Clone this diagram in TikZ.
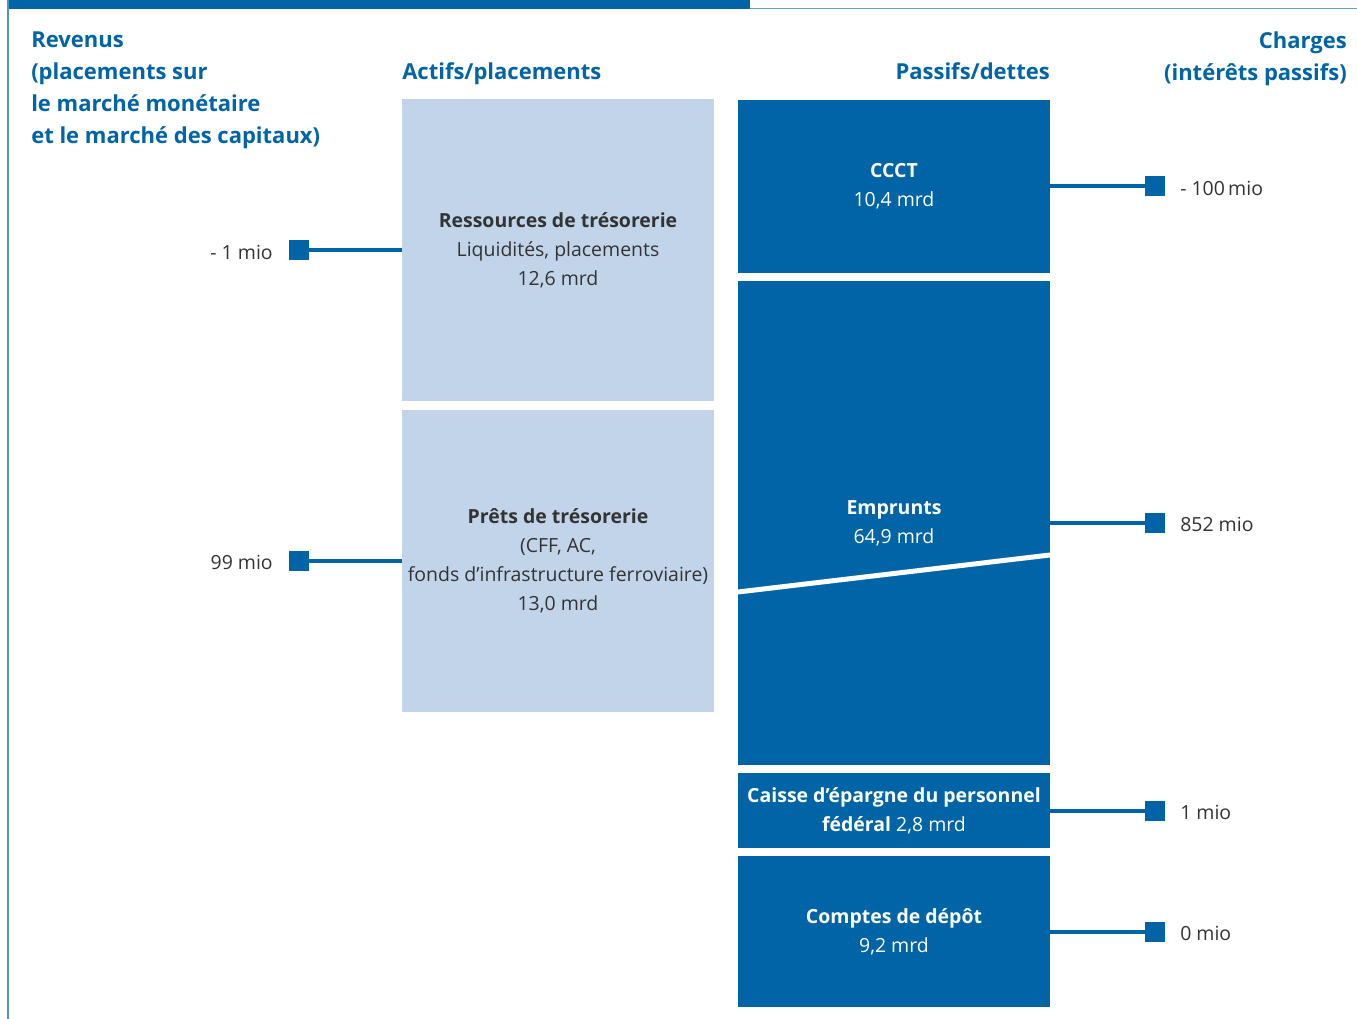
\documentclass[tikz,border=0pt]{standalone}
\usepackage{fontspec}
\setmainfont{Open Sans}
\usetikzlibrary{positioning}

\definecolor{fedblue}{RGB}{0,100,167}
\definecolor{lightfed}{RGB}{194,212,234}
\definecolor{txtgray}{RGB}{51,51,51}

\tikzset{
  head/.style={text=fedblue, font=\fontsize{16.5}{24}\selectfont\bfseries, inner sep=0pt},
  asset/.style={fill=lightfed, text=txtgray, minimum width=234pt, align=center, inner sep=0pt,
    font=\fontsize{14.6}{21.75}\selectfont},
  debt/.style={fill=fedblue, text=white, minimum width=234pt, align=center, inner sep=0pt,
    font=\fontsize{14.6}{21.75}\selectfont},
  flowsq/.style={fill=fedblue, minimum size=15pt, inner sep=0pt},
  flowline/.style={draw=fedblue, line width=3pt},
  amount/.style={text=txtgray, font=\fontsize{14.6}{18}\selectfont, inner sep=0pt}
}

\begin{document}
\begin{tikzpicture}[x=0.75pt,y=0.75pt,yscale=-1,xscale=1]
\useasboundingbox (0,0) rectangle (1357,1019);

% frame: top bar and left rule
\fill[fedblue] (8,0) rectangle (750,9);
\draw[fedblue!60, line width=0.75pt] (750,9) -- (1357,9);
\draw[fedblue!70, line width=1.5pt] (8,0) -- (8,1019);

% column heads
\node[head, anchor=north west, align=left] (revhead) at (31,32)
  {Revenus\\(placements sur\\le marché monétaire\\et le marché des capitaux)};
\node[head, anchor=base west] (assethead) at (402,80) {Actifs/placements};
\node[head, anchor=base east] (debthead) at (1050,80) {Passifs/dettes};
\node[head, anchor=north east, align=right] (chghead) at (1347,32)
  {Charges\\(intérêts passifs)};

% assets
\node[asset, minimum height=226.5pt] (tres) at (558,250)
  {\textbf{Ressources de trésorerie}\\Liquidités, placements\\12,6 mrd};
\node[asset, minimum height=226.5pt] (loans) at (558,561)
  {\textbf{Prêts de trésorerie}\\(CFF, AC,\\fonds d’infrastructure ferroviaire)\\13,0 mrd};

% liabilities
\node[debt, minimum height=129.75pt] (ccct) at (894,186.5)
  {\textbf{CCCT}\\10,4 mrd};
\node[debt, minimum height=363pt] (empr) at (894,523)
  {\textbf{Emprunts}\\64,9 mrd};
\node[debt, minimum height=56.25pt] (caisse) at (894,810.5)
  {\textbf{Caisse d’épargne du personnel}\\\textbf{fédéral} 2,8 mrd};
\node[debt, minimum height=113.25pt] (depot) at (894,931.5)
  {\textbf{Comptes de dépôt}\\9,2 mrd};

% break in the bond block
\draw[white, line width=3.75pt] (738,592) -- (1050,555);

% income side
\node[flowsq] (sqtres) at (299,250) {};
\node[flowsq] (sqloans) at (299,561) {};
\draw[flowline] (sqtres) -- (tres.west);
\draw[flowline] (sqloans) -- (loans.west);
\node[amount, anchor=east] (amtres) at (273,252) {- 1 mio};
\node[amount, anchor=east] (amloans) at (273,562) {99 mio};

% expense side
\node[flowsq] (sqccct) at (1155,186.5) {};
\node[flowsq] (sqempr) at (1155,523) {};
\node[flowsq] (sqcaisse) at (1155,810.5) {};
\node[flowsq] (sqdepot) at (1155,931.5) {};
\foreach \blk in {ccct,empr,caisse,depot}
  \draw[flowline] (\blk.east) -- (sq\blk);
\node[amount, anchor=west] (amccct) at (1180,188) {- 100\,mio};
\node[amount, anchor=west] (amempr) at (1180,524) {852 mio};
\node[amount, anchor=west] (amcaisse) at (1180,812) {1 mio};
\node[amount, anchor=west] (amdepot) at (1180,933) {0 mio};

\end{tikzpicture}
\end{document}
